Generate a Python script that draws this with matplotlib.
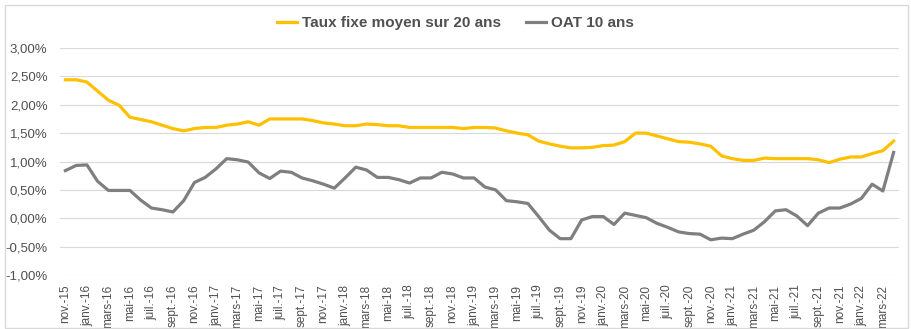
import matplotlib
matplotlib.use("Agg")
import matplotlib.pyplot as plt
from matplotlib.patches import Rectangle
from matplotlib.ticker import FuncFormatter, MultipleLocator

plt.rcParams["font.family"] = ["Liberation Sans", "DejaVu Sans"]

# monthly categories, nov. 2015 -> avr. 2022
month_names = ["janv.", "févr.", "mars", "avr.", "mai", "juin",
               "juil.", "août", "sept.", "oct.", "nov.", "déc."]
months = []
for k in range(78):
    m = (10 + k) % 12
    y = 15 + (10 + k) // 12
    months.append(f"{month_names[m]}-{y}")

taux_fixe_20 = [2.44, 2.44, 2.40, 2.24, 2.08, 1.99, 1.78, 1.74, 1.70, 1.64,
                1.58, 1.54, 1.58, 1.60, 1.60, 1.64, 1.66, 1.70, 1.64, 1.75,
                1.75, 1.75, 1.75, 1.72, 1.68, 1.66, 1.63, 1.63, 1.66, 1.65,
                1.63, 1.63, 1.60, 1.60, 1.60, 1.60, 1.60, 1.58, 1.60,
                1.60, 1.59, 1.54, 1.50, 1.47, 1.36, 1.31, 1.27, 1.24, 1.24,
                1.25, 1.28, 1.29, 1.35, 1.50, 1.50, 1.45, 1.40, 1.35, 1.34,
                1.31, 1.27, 1.10, 1.05, 1.02, 1.02, 1.06, 1.05, 1.05, 1.05,
                1.05, 1.03, 0.98, 1.04, 1.08, 1.08, 1.14, 1.19, 1.36]

oat_10 = [0.84, 0.93, 0.94, 0.65, 0.49, 0.49, 0.49, 0.32, 0.18, 0.15,
          0.11, 0.31, 0.63, 0.72, 0.87, 1.05, 1.03, 0.99, 0.80, 0.70,
          0.83, 0.81, 0.71, 0.66, 0.60, 0.53, 0.71, 0.90, 0.85, 0.72,
          0.72, 0.68, 0.62, 0.71, 0.71, 0.81, 0.78, 0.71, 0.71,
          0.55, 0.50, 0.31, 0.29, 0.26, 0.03, -0.21, -0.36, -0.36, -0.03,
          0.03, 0.03, -0.11, 0.09, 0.05, 0.01, -0.09, -0.16, -0.24, -0.27,
          -0.28, -0.38, -0.35, -0.36, -0.28, -0.21, -0.06, 0.13, 0.15, 0.04,
          -0.13, 0.09, 0.18, 0.18, 0.25, 0.35, 0.60, 0.48, 1.16]

YELLOW = "#FFC000"
GREY = "#7F7F7F"
TXT = "#505050"

fig = plt.figure(figsize=(9.11, 3.29), dpi=100)
ax = fig.add_axes([60 / 911, 1 - 275 / 329, 839 / 911, 227 / 329])

x = list(range(len(months)))
ax.plot(x, taux_fixe_20, color=YELLOW, lw=2.3, solid_joinstyle="round",
        label="Taux fixe moyen sur 20 ans")
ax.plot(x, oat_10, color=GREY, lw=2.3, solid_joinstyle="round",
        label="OAT 10 ans")

ax.set_xlim(-0.5, len(months) - 0.5)
ax.set_ylim(-1.0, 3.0)
ax.yaxis.set_major_locator(MultipleLocator(0.5))
ax.yaxis.set_major_formatter(FuncFormatter(lambda v, p: f"{v:.2f}%".replace(".", ",")))
ax.grid(axis="y", color="#D9D9D9", lw=0.8)
ax.set_axisbelow(True)

ax.set_xticks(x[::2])
ax.set_xticklabels(months[::2], rotation=90)
ax.tick_params(axis="x", length=0, pad=7, labelsize=8.5, labelcolor=TXT)
ax.tick_params(axis="y", length=0, pad=9, labelsize=9.5, labelcolor=TXT)
for s in ax.spines.values():
    s.set_visible(False)

fig.legend(loc="center", bbox_to_anchor=(0.5, 1 - 23 / 329), ncol=2,
           frameon=False, handlelength=1.3, handletextpad=0.35,
           columnspacing=1.6, prop={"size": 11, "weight": "bold"},
           labelcolor=TXT)

fig.patches.append(Rectangle((5 / 911, 1 / 329), 903 / 911, 323 / 329,
                             transform=fig.transFigure, fill=False,
                             edgecolor="#D9D9D9", lw=1))

fig.savefig("out.png", dpi=100)
